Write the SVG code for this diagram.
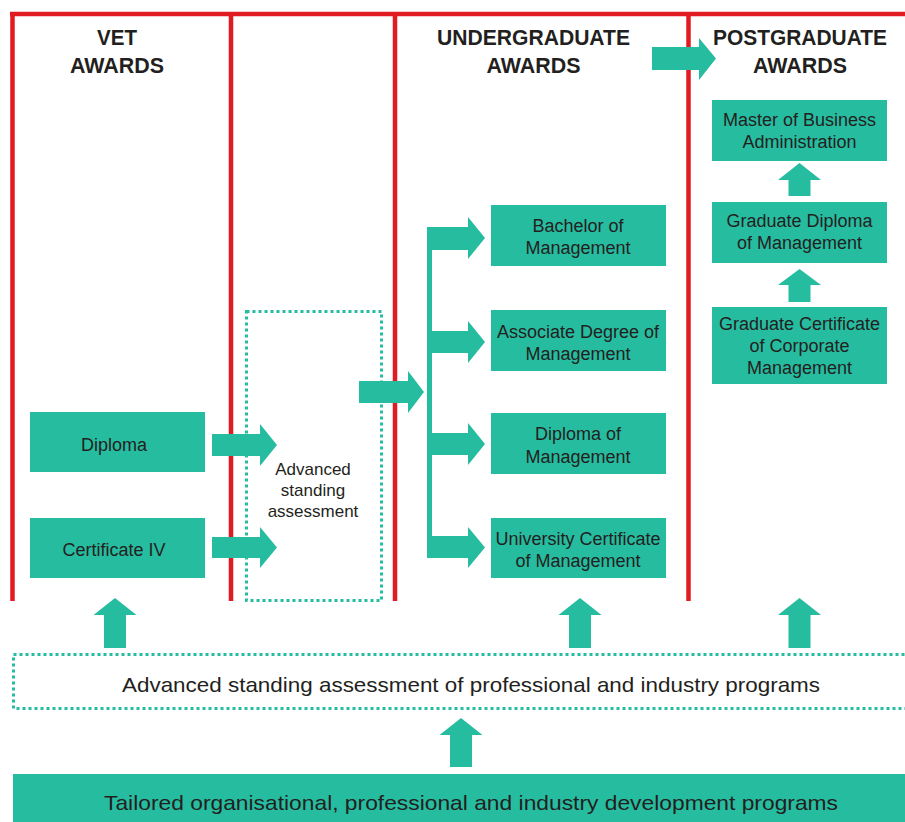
<svg xmlns="http://www.w3.org/2000/svg" width="905" height="822" viewBox="0 0 905 822">
<style>
.red{stroke:#E21B23;stroke-width:4.5;fill:none}
.box{fill:#26BCA0}
.arr{fill:#26BCA0}
.dot{fill:none;stroke:#26BCA0;stroke-width:3;stroke-dasharray:3 3}
.hd{font-family:"Liberation Sans",Arial,sans-serif;font-weight:bold;font-size:22px;fill:#231F20;text-anchor:middle}
.lb{font-family:"Liberation Sans",Arial,sans-serif;font-size:18px;fill:#231F20;text-anchor:middle}
.sm{font-family:"Liberation Sans",Arial,sans-serif;font-size:17px;fill:#231F20;text-anchor:middle}
.big{font-family:"Liberation Sans",Arial,sans-serif;font-size:21px;fill:#231F20;text-anchor:middle}
</style>
<rect width="905" height="822" fill="#ffffff"/>
<g id="frame">
<line class="red" x1="10" y1="14" x2="905" y2="14"/>
<line class="red" x1="12.5" y1="12" x2="12.5" y2="601"/>
<line class="red" x1="231" y1="12" x2="231" y2="601"/>
<line class="red" x1="395" y1="12" x2="395" y2="601"/>
<line class="red" x1="688.5" y1="12" x2="688.5" y2="601"/>
</g>
<g id="headers">
<text class="hd" x="117" y="45" textLength="40" lengthAdjust="spacingAndGlyphs">VET</text>
<text class="hd" x="117" y="73" textLength="94" lengthAdjust="spacingAndGlyphs">AWARDS</text>
<text class="hd" x="533.5" y="45" textLength="193" lengthAdjust="spacingAndGlyphs">UNDERGRADUATE</text>
<text class="hd" x="533.5" y="73" textLength="94" lengthAdjust="spacingAndGlyphs">AWARDS</text>
<text class="hd" x="800" y="45" textLength="174" lengthAdjust="spacingAndGlyphs">POSTGRADUATE</text>
<text class="hd" x="800" y="73" textLength="94" lengthAdjust="spacingAndGlyphs">AWARDS</text>
</g>
<g id="connectors">
<polygon class="arr" points="652,47 699,47 699,38 716,58.5 699,80 699,70 652,70"/>
<polygon class="arr" points="212,434 260,434 260,424 277,445 260,466 260,456 212,456"/>
<polygon class="arr" points="212,537 260,537 260,527 277,547.5 260,568 260,558 212,558"/>
<polygon class="arr" points="359,381 408,381 408,371 424,392 408,413 408,403 359,403"/>
<rect class="arr" x="427" y="227" width="5" height="331"/>
<polygon class="arr" points="427,227 468,227 468,217 485,238 468,259 468,250 427,250"/>
<polygon class="arr" points="427,331 468,331 468,321 485,342 468,363 468,353 427,353"/>
<polygon class="arr" points="427,433 468,433 468,423 485,444 468,465 468,455 427,455"/>
<polygon class="arr" points="427,536 468,536 468,527 485,547.5 468,568 468,558 427,558"/>
<polygon class="arr" points="788.5,196 788.5,180 778,180 799.5,163 821,180 810.5,180 810.5,196"/>
<polygon class="arr" points="788.5,302 788.5,285 778,285 799.5,269 821,285 810.5,285 810.5,302"/>
<polygon class="arr" points="104,648 104,615 93.5,615 115,598 136.5,615 126,615 126,648"/>
<polygon class="arr" points="569,648 569,615 558.5,615 580,598 601.5,615 591,615 591,648"/>
<polygon class="arr" points="788.5,648 788.5,615 778,615 799.5,598 821,615 810.5,615 810.5,648"/>
<polygon class="arr" points="450,767 450,735 439.5,735 461,718 482.5,735 472,735 472,767"/>
</g>
<g id="diploma">
<rect class="box" x="30" y="412" width="175" height="60"/>
<text class="lb" x="114" y="451">Diploma</text>
</g>
<g id="certificate-iv">
<rect class="box" x="30" y="518" width="175" height="60"/>
<text class="lb" x="114" y="556">Certificate IV</text>
</g>
<g id="advanced-standing">
<rect class="dot" x="246.5" y="311.5" width="135" height="289"/>
<text class="sm" x="313" y="475">Advanced</text>
<text class="sm" x="313" y="496">standing</text>
<text class="sm" x="313" y="517">assessment</text>
</g>
<g id="bachelor">
<rect class="box" x="491" y="205" width="175" height="61"/>
<text class="lb" x="578" y="232">Bachelor of</text>
<text class="lb" x="578" y="254">Management</text>
</g>
<g id="associate">
<rect class="box" x="491" y="310" width="175" height="61"/>
<text class="lb" x="578" y="338">Associate Degree of</text>
<text class="lb" x="578" y="360">Management</text>
</g>
<g id="diploma-of-management">
<rect class="box" x="491" y="413" width="175" height="61"/>
<text class="lb" x="578" y="440">Diploma of</text>
<text class="lb" x="578" y="463">Management</text>
</g>
<g id="university-certificate">
<rect class="box" x="491" y="518" width="175" height="60"/>
<text class="lb" x="578" y="545">University Certificate</text>
<text class="lb" x="578" y="567">of Management</text>
</g>
<g id="mba">
<rect class="box" x="712" y="100" width="175" height="61"/>
<text class="lb" x="799.5" y="126">Master of Business</text>
<text class="lb" x="799.5" y="148">Administration</text>
</g>
<g id="graduate-diploma">
<rect class="box" x="712" y="202" width="175" height="61"/>
<text class="lb" x="799.5" y="227">Graduate Diploma</text>
<text class="lb" x="799.5" y="249">of Management</text>
</g>
<g id="graduate-certificate">
<rect class="box" x="712" y="307" width="175" height="77"/>
<text class="lb" x="799.5" y="330">Graduate Certificate</text>
<text class="lb" x="799.5" y="352">of Corporate</text>
<text class="lb" x="799.5" y="374">Management</text>
</g>
<g id="assessment-programs">
<rect class="dot" x="13.5" y="654.5" width="900" height="54"/>
<text class="big" x="471" y="692" textLength="698" lengthAdjust="spacingAndGlyphs">Advanced standing assessment of professional and industry programs</text>
</g>
<g id="tailored-programs">
<rect class="box" x="13" y="774" width="892" height="48"/>
<text class="big" x="471" y="810" font-size="22" textLength="734" lengthAdjust="spacingAndGlyphs">Tailored organisational, professional and industry development programs</text>
</g>
</svg>
